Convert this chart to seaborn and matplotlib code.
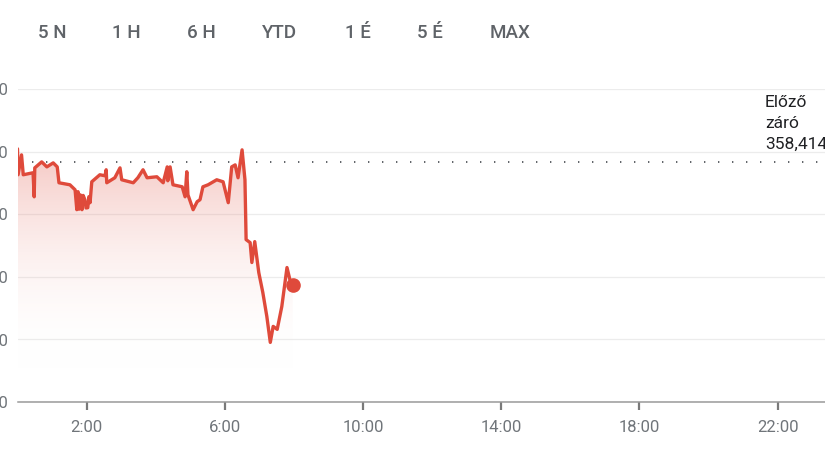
import numpy as np
import pandas as pd
import seaborn as sns
import matplotlib.pyplot as plt
from matplotlib.colors import LinearSegmentedColormap

# Árfolyam adatok (perc éjfél óta, ár)
perc = [0, 1, 7, 10, 27, 29, 30, 42, 51, 62, 69, 72, 91, 100, 103, 105, 107, 109,
        111, 112, 114, 117, 119, 122, 124, 126, 129, 143, 152, 154, 155, 169, 178,
        181, 201, 209, 218, 225, 242, 253, 260, 261, 265, 270, 286, 291, 294, 296,
        305, 312, 317, 322, 331, 346, 357, 366, 372, 378, 383, 390, 395, 397, 404,
        407, 412, 419, 426, 433, 439, 444, 451, 459, 468, 473, 478]
ar = [358.522, 358.315, 358.474, 358.315, 358.331, 358.139, 358.370, 358.418,
      358.378, 358.410, 358.378, 358.251, 358.235, 358.195, 358.036, 358.180,
      358.040, 358.155, 358.060, 358.036, 358.150, 358.116, 358.050, 358.052,
      358.140, 358.092, 358.259, 358.315, 358.307, 358.355, 358.251, 358.291,
      358.370, 358.275, 358.251, 358.291, 358.355, 358.291, 358.299, 358.251,
      358.378, 358.267, 358.378, 358.235, 358.219, 358.139, 358.339, 358.155,
      358.036, 358.100, 358.116, 358.219, 358.235, 358.275, 358.259, 358.092,
      358.378, 358.394, 358.291, 358.514, 358.275, 357.797, 357.773, 357.614,
      357.781, 357.534, 357.375, 357.183, 356.976, 357.104, 357.080, 357.263,
      357.574, 357.478, 357.438]
elozo_zaro = 358.414

gombok = ["5 N", "1 H", "6 H", "YTD", "1 É", "5 É", "MAX"]
gomb_x = [52, 126, 201, 280, 358, 430, 510]

x_tick_perc = [120, 360, 600, 840, 1080, 1320]
x_tick_cimke = ["2:00", "6:00", "10:00", "14:00", "18:00", "22:00"]
y_tickek = [356.5, 357.0, 357.5, 358.0, 358.5, 359.0]

df = pd.DataFrame({"perc": perc, "ar": ar})

piros = "#df4a3b"
szurke = "#70757a"

sns.set_style("white")
plt.rcParams['font.family'] = ['Roboto', 'DejaVu Sans']

W, H = 825, 450
fig = plt.figure(figsize=(8.25, 4.5), dpi=100)
bal, jobb, lent, fent = 17.5, 846.7, 402, 89
ax = fig.add_axes([bal / W, (H - lent) / H, (jobb - bal) / W, (lent - fent) / H])

# színátmenetes kitöltés
cmap = LinearSegmentedColormap.from_list("fade", [(1, 1, 1, 0), (0.87, 0.29, 0.23, 0.32)])
grad = np.linspace(0, 1, 256).reshape(-1, 1)
kitolt = ax.fill_between(df["perc"], df["ar"], 356.5, color="none", lw=0)
img = ax.imshow(grad, cmap=cmap, aspect="auto", origin="lower",
                extent=[0, 480, 356.75, 358.55], zorder=1)
img.set_clip_path(kitolt.get_paths()[0], transform=ax.transData)

sns.lineplot(data=df, x="perc", y="ar", ax=ax, color=piros, lw=2.4, zorder=3)
ax.plot(perc[-1], ar[-1], "o", color=piros, ms=9.5, zorder=4)

ax.axhline(elozo_zaro, color="#5f6368", lw=1.4, ls=(0, (0.7, 6.5)), zorder=2)

ax.set_xlim(0, 1440)
ax.set_ylim(356.5, 359.0)
ax.set_xticks(x_tick_perc)
ax.set_xticklabels(x_tick_cimke)
ax.set_yticks(y_tickek)
ax.set_yticklabels([f"{v:.2f}".replace(".", ",") for v in y_tickek])
ax.set_xlabel("")
ax.set_ylabel("")
ax.grid(axis="y", color="#ececec", lw=0.9)
ax.grid(axis="x", visible=False)
for s in ["top", "right", "left"]:
    ax.spines[s].set_visible(False)
ax.spines["bottom"].set_color("#9a9a9a")
ax.spines["bottom"].set_linewidth(1.1)
ax.tick_params(axis="x", length=6, width=1.6, color="#7a7a7a", pad=7,
               labelsize=12, labelcolor=szurke, direction="out", bottom=True)
ax.tick_params(axis="y", length=0, pad=7, labelsize=12, labelcolor=szurke)

# felső gombok
for g, gx in zip(gombok, gomb_x):
    fig.text(gx / W, 1 - 33 / H, g, ha="center", va="center", fontsize=13.5,
             color="#5f6368", fontweight="medium")

fig.text(765 / W, 1 - 95 / H, "Előző\nzáró\n" + f"{elozo_zaro:.3f}".replace(".", ","),
         ha="left", va="top", fontsize=12.5, color="#202124", linespacing=1.5)

fig.savefig("out.png", dpi=100)
